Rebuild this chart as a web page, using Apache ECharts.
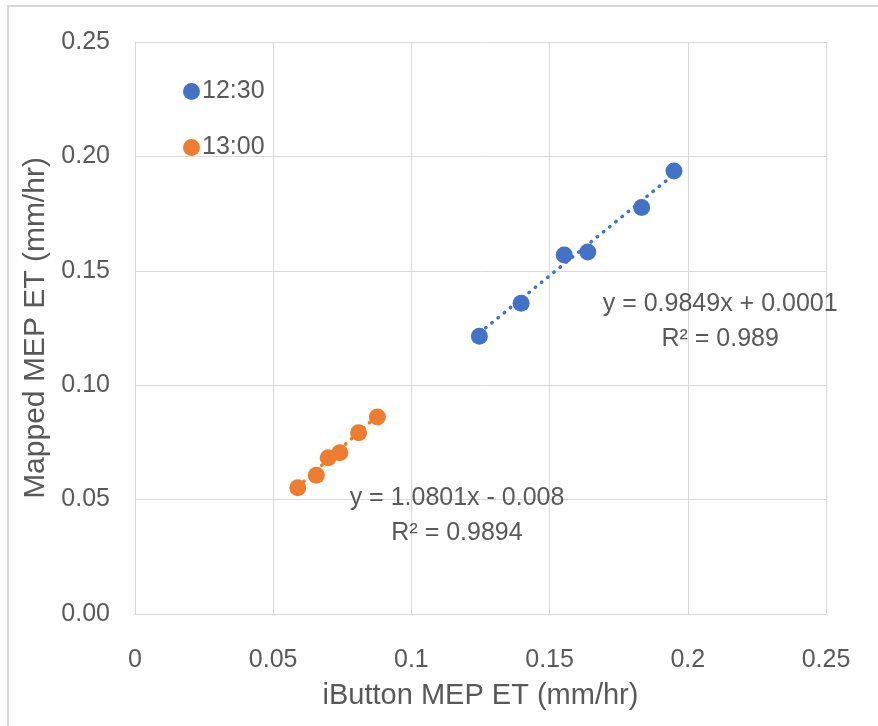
<!DOCTYPE html>
<html>
<head>
<meta charset="utf-8">
<script src="https://cdn.jsdelivr.net/npm/echarts@6/dist/echarts.min.js"></script>
<style>
  html, body { margin: 0; padding: 0; background: #fff; }
  #chart { width: 878px; height: 726px; }
</style>
</head>
<body>
<div id="chart"></div>
<script>
// Measurements: iButton ET (x) vs mapped ET (y), mm/hr
const seriesNames = ['12:30', '13:00'];
const ibutton1230 = [0.1246, 0.1397, 0.1553, 0.1638, 0.1833, 0.1950];
const mapped1230  = [0.1214, 0.1358, 0.1569, 0.1582, 0.1777, 0.1936];
const ibutton1300 = [0.0589, 0.0656, 0.0699, 0.0741, 0.0809, 0.0877];
const mapped1300  = [0.0552, 0.0606, 0.0683, 0.0705, 0.0792, 0.0861];

// Linear fits (slope, intercept, R²)
const fit1230 = { slope: 0.9849, intercept: 0.0001, r2: '0.989',  eq: 'y = 0.9849x + 0.0001' };
const fit1300 = { slope: 1.0801, intercept: -0.008, r2: '0.9894', eq: 'y = 1.0801x - 0.008' };

const xTicks = [0, 0.05, 0.1, 0.15, 0.2, 0.25];
const yTicks = [0, 0.05, 0.1, 0.15, 0.2, 0.25];

const colors = ['#4472C4', '#ED7D31'];
const FONT = '"Liberation Sans", Arial, sans-serif';
const TEXT = '#595959';

function pairs(xs, ys) { return xs.map((x, i) => [x, ys[i]]); }
function fitLine(xs, fit) {
  const lo = Math.min(...xs), hi = Math.max(...xs);
  return [[lo, fit.slope * lo + fit.intercept], [hi, fit.slope * hi + fit.intercept]];
}

const chart = echarts.init(document.getElementById('chart'), null, { renderer: 'canvas' });

const trendStyle = (c) => ({ color: c, width: 3.5, type: [0.5, 7.5], cap: 'round' });
const fitLabel = (fit) => ({
  show: true, position: 'inside', color: TEXT, fontSize: 25, lineHeight: 35,
  fontFamily: FONT, formatter: () => fit.eq + '\nR² = ' + fit.r2
});

chart.setOption({
  animation: false,
  backgroundColor: '#fff',
  textStyle: { fontFamily: FONT },
  graphic: [{
    type: 'rect',
    shape: { x: 8, y: 6, width: 1000, height: 1000 },
    style: { fill: 'none', stroke: '#d9d9d9', lineWidth: 2 },
    silent: true, z: -10
  }],
  grid: { left: 135, top: 42, right: 52, bottom: 112, containLabel: false },
  legend: {
    data: seriesNames,
    orient: 'vertical',
    left: 178, top: 74,
    icon: 'circle',
    itemWidth: 17, itemHeight: 17,
    itemGap: 31,
    textStyle: { color: TEXT, fontSize: 25, lineHeight: 25, fontFamily: FONT, padding: [0, 0, 0, -3] }
  },
  xAxis: {
    type: 'value', min: xTicks[0], max: xTicks[xTicks.length - 1], interval: 0.05,
    name: 'iButton MEP ET (mm/hr)', nameLocation: 'middle', nameGap: 67,
    nameTextStyle: { color: TEXT, fontSize: 29, fontFamily: FONT },
    axisLine: { show: true, lineStyle: { color: '#d9d9d9', width: 1 } },
    axisTick: { show: false },
    axisLabel: { color: TEXT, fontSize: 25, margin: 34, fontFamily: FONT,
      formatter: v => String(+v.toFixed(2)) },
    splitLine: { show: true, lineStyle: { color: '#d9d9d9', width: 1 } }
  },
  yAxis: {
    type: 'value', min: yTicks[0], max: yTicks[yTicks.length - 1], interval: 0.05,
    name: 'Mapped MEP ET (mm/hr)', nameLocation: 'middle', nameGap: 83,
    nameTextStyle: { color: TEXT, fontSize: 30, fontFamily: FONT },
    axisLine: { show: true, lineStyle: { color: '#d9d9d9', width: 1 } },
    axisTick: { show: false },
    axisLabel: { color: TEXT, fontSize: 25, margin: 25, fontFamily: FONT,
      formatter: v => v.toFixed(2) },
    splitLine: { show: true, lineStyle: { color: '#d9d9d9', width: 1 } }
  },
  series: [
    {
      name: 'fit 12:30', type: 'line', data: fitLine(ibutton1230, fit1230),
      symbol: 'none', lineStyle: trendStyle(colors[0]), z: 1, silent: true,
      markPoint: {
        symbol: 'circle', symbolSize: 0, silent: true,
        data: [{ coord: [0.2117, 0.1280] }],
        label: fitLabel(fit1230)
      }
    },
    {
      name: 'fit 13:00', type: 'line', data: fitLine(ibutton1300, fit1300),
      symbol: 'none', lineStyle: trendStyle(colors[1]), z: 1, silent: true,
      markPoint: {
        symbol: 'circle', symbolSize: 0, silent: true,
        data: [{ coord: [0.1165, 0.0428] }],
        label: fitLabel(fit1300)
      }
    },
    {
      name: seriesNames[0], type: 'scatter', data: pairs(ibutton1230, mapped1230),
      symbol: 'circle', symbolSize: 17, itemStyle: { color: colors[0], opacity: 1 }, z: 3
    },
    {
      name: seriesNames[1], type: 'scatter', data: pairs(ibutton1300, mapped1300),
      symbol: 'circle', symbolSize: 17, itemStyle: { color: colors[1], opacity: 1 }, z: 3
    }
  ]
});
</script>
</body>
</html>
